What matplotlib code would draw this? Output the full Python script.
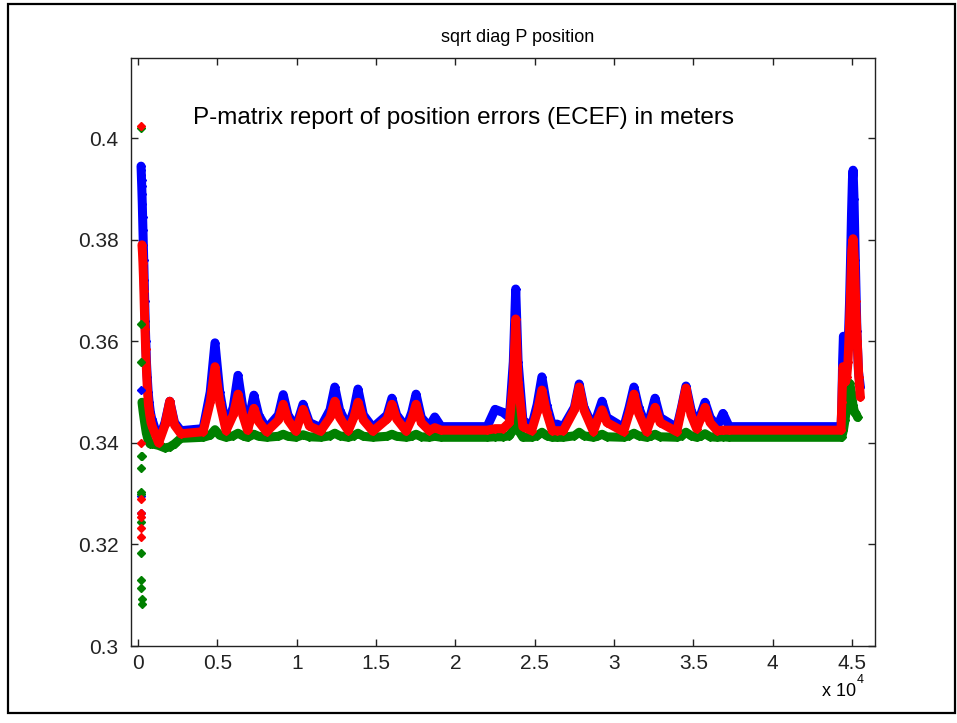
import matplotlib
matplotlib.use("Agg")
import matplotlib.pyplot as plt
from matplotlib.patches import Rectangle

plt.rcParams['font.family'] = ['Liberation Sans', 'DejaVu Sans']

# shared key points of the main band (x in samples)
x_body = [900, 1300, 1700, 2000, 2300, 2700, 4100, 4550, 4850, 5150, 5550, 6000, 6300, 6600,
          6900, 7300, 7600, 8100, 8850, 9150, 9450, 9950, 10400, 10800, 11500, 12100, 12400,
          12700, 13250, 13600, 13860, 14200, 14800, 15700, 16000, 16300, 16900, 17250, 17520,
          17850, 18350, 18700, 19100, 22000, 22500, 23000, 23400, 23650, 23800, 23950, 24250,
          24800, 25150, 25450, 25750, 26100, 26400, 26800, 27500, 27800, 28100, 28700, 28950,
          29240, 29550, 30600, 30950, 31250, 31550, 32050, 32300, 32580, 32900, 33950, 34250,
          34530, 34850, 35200, 35450, 35730, 36050, 36500, 36860, 37250, 44300]
blue_body = [0.3445, 0.3405, 0.3440, 0.3482, 0.3440, 0.3424, 0.3428, 0.3500, 0.3597, 0.3500,
             0.3430, 0.3470, 0.3533, 0.3470, 0.3432, 0.3494, 0.3455, 0.3428, 0.3455, 0.3495,
             0.3455, 0.3430, 0.3476, 0.3440, 0.3430, 0.3465, 0.3510, 0.3465, 0.3430, 0.3465,
             0.3506, 0.3455, 0.3430, 0.3455, 0.3488, 0.3455, 0.3430, 0.3460, 0.3496, 0.3450,
             0.3432, 0.3451, 0.3432, 0.3432, 0.3466, 0.3460, 0.3450, 0.3560, 0.3703, 0.3560,
             0.3445, 0.3432, 0.3475, 0.3530, 0.3475, 0.3435, 0.3437, 0.3432, 0.3470, 0.3516,
             0.3470, 0.3430, 0.3455, 0.3482, 0.3450, 0.3430, 0.3470, 0.3510, 0.3470, 0.3430,
             0.3455, 0.3488, 0.3450, 0.3430, 0.3470, 0.3512, 0.3465, 0.3435, 0.3455, 0.3480,
             0.3450, 0.3432, 0.3458, 0.3432, 0.3432]
red_body = [0.3432, 0.3400, 0.3435, 0.3482, 0.3435, 0.3418, 0.3422, 0.3480, 0.3550, 0.3480,
            0.3424, 0.3455, 0.3496, 0.3455, 0.3425, 0.3468, 0.3442, 0.3422, 0.3445, 0.3476,
            0.3445, 0.3423, 0.3466, 0.3433, 0.3423, 0.3450, 0.3482, 0.3450, 0.3424, 0.3450,
            0.3480, 0.3445, 0.3423, 0.3447, 0.3476, 0.3447, 0.3423, 0.3447, 0.3476, 0.3440,
            0.3424, 0.3430, 0.3425, 0.3425, 0.3428, 0.3428, 0.3440, 0.3520, 0.3644, 0.3520,
            0.3432, 0.3424, 0.3460, 0.3504, 0.3460, 0.3424, 0.3424, 0.3424, 0.3465, 0.3510,
            0.3465, 0.3422, 0.3445, 0.3465, 0.3440, 0.3422, 0.3458, 0.3496, 0.3458, 0.3422,
            0.3445, 0.3470, 0.3440, 0.3422, 0.3466, 0.3508, 0.3455, 0.3428, 0.3447, 0.3470,
            0.3440, 0.3424, 0.3425, 0.3425, 0.3425]
green_body = [0.3398, 0.3395, 0.3390, 0.3392, 0.3398, 0.3409, 0.3411, 0.3415, 0.3426, 0.3415,
              0.3411, 0.3414, 0.3419, 0.3414, 0.3411, 0.3417, 0.3413, 0.3411, 0.3413, 0.3417,
              0.3413, 0.3411, 0.3416, 0.3412, 0.3411, 0.3414, 0.3419, 0.3414, 0.3411, 0.3414,
              0.3419, 0.3413, 0.3411, 0.3413, 0.3417, 0.3413, 0.3411, 0.3413, 0.3417, 0.3412,
              0.3411, 0.3413, 0.3411, 0.3411, 0.3412, 0.3412, 0.3414, 0.3426, 0.3470, 0.3426,
              0.3411, 0.3411, 0.3414, 0.3421, 0.3414, 0.3411, 0.3411, 0.3411, 0.3414, 0.3421,
              0.3414, 0.3411, 0.3413, 0.3417, 0.3412, 0.3411, 0.3414, 0.3419, 0.3414, 0.3411,
              0.3413, 0.3417, 0.3412, 0.3411, 0.3414, 0.3421, 0.3414, 0.3411, 0.3413, 0.3418,
              0.3412, 0.3411, 0.3412, 0.3411, 0.3411]

# start transient
blue_start_x = [190, 200, 210, 220, 235, 250, 270, 290, 310, 335, 360, 390, 420, 450, 490,
                530, 580, 640, 700, 780, 860]
blue_start_y = [0.3945, 0.3937, 0.3928, 0.3918, 0.3905, 0.3890, 0.3870, 0.3845, 0.3820, 0.3790,
                0.3760, 0.3720, 0.3680, 0.3640, 0.3600, 0.3560, 0.3530, 0.3500, 0.3480, 0.3460,
                0.3448]
red_start_x = [250, 280, 310, 340, 370, 400, 440, 480, 530, 590, 660, 740, 820]
red_start_y = [0.3790, 0.3775, 0.3755, 0.3730, 0.3700, 0.3665, 0.3625, 0.3585, 0.3545, 0.3505,
               0.3475, 0.3455, 0.3440]
green_start_x = [250, 330, 420, 520, 640, 760]
green_start_y = [0.3480, 0.3460, 0.3440, 0.3420, 0.3405, 0.3398]

# end transient
blue_end_x = [44350, 44400, 44450, 44520, 44600, 44680, 44760, 44840, 44900, 44960, 45020,
              45060, 45120, 45200, 45300, 45400, 45520]
blue_end_y = [0.3470, 0.3560, 0.3610, 0.3605, 0.3590, 0.3570, 0.3600, 0.3680, 0.3760, 0.3850,
              0.3920, 0.3937, 0.3880, 0.3760, 0.3620, 0.3540, 0.3510]
red_end_x = [44350, 44420, 44500, 44580, 44660, 44740, 44820, 44900, 44980, 45060, 45140,
             45220, 45320, 45420, 45520]
red_end_y = [0.3480, 0.3550, 0.3540, 0.3520, 0.3530, 0.3560, 0.3620, 0.3700, 0.3780, 0.3802,
             0.3760, 0.3680, 0.3600, 0.3530, 0.3490]
green_end_x = [44350, 44450, 44550, 44650, 44750, 44850, 44950, 45050, 45150, 45250, 45350]
green_end_y = [0.3412, 0.3425, 0.3445, 0.3470, 0.3500, 0.3517, 0.3500, 0.3475, 0.3460, 0.3457,
               0.3450]

# isolated first samples
blue_out_x = [200, 215, 190]
blue_out_y = [0.3295, 0.3262, 0.3505]
red_out_x = [190, 195, 200, 205, 210, 215, 190]
red_out_y = [0.4025, 0.3290, 0.3262, 0.3255, 0.3233, 0.3215, 0.3400]
green_out_x = [185, 170, 175, 180, 185, 190, 195, 200, 205, 210, 215, 220, 225, 230]
green_out_y = [0.4020, 0.3635, 0.3560, 0.3375, 0.3351, 0.3304, 0.3300, 0.3245, 0.3183, 0.3130,
               0.3115, 0.3093, 0.3083, 0.3375]

xticks = [0, 5000, 10000, 15000, 20000, 25000, 30000, 35000, 40000, 45000]
xticklabels = ['0', '0.5', '1', '1.5', '2', '2.5', '3', '3.5', '4', '4.5']
yticks = [0.30, 0.32, 0.34, 0.36, 0.38, 0.40]
yticklabels = ['0.3', '0.32', '0.34', '0.36', '0.38', '0.4']

fig = plt.figure(figsize=(9.57, 7.23), dpi=100)
fig.patch.set_facecolor('white')
fig.patches.append(Rectangle((8 / 957, 1 - 713 / 723), 947 / 957, 709 / 723,
                             transform=fig.transFigure, fill=False, ec='black', lw=1.6))

ax = fig.add_axes([0.1369, 0.1065, 0.7774, 0.8133])

series = [
    ('blue', blue_start_x + x_body + blue_end_x, blue_start_y + blue_body + blue_end_y,
     blue_out_x, blue_out_y),
    ((0, 0.5, 0), green_start_x + x_body + green_end_x, green_start_y + green_body + green_end_y,
     green_out_x, green_out_y),
    ('red', red_start_x + x_body + red_end_x, red_start_y + red_body + red_end_y,
     red_out_x, red_out_y),
]
for i, (c, xs, ys, ox, oy) in enumerate(series):
    ax.plot(xs, ys, color=c, lw=6.5, marker='D', ms=4.2, mec=c, mfc=c,
            solid_joinstyle='round', solid_capstyle='round', zorder=2 + i)
    ax.plot(ox, oy, ls='none', marker='D', ms=4.2, mec=c, mfc=c, zorder=5 + i)

ax.set_xlim(-441, 46440)
ax.set_ylim(0.3, 0.4158)
ax.set_xticks(xticks)
ax.set_xticklabels(xticklabels)
ax.set_yticks(yticks)
ax.set_yticklabels(yticklabels)
ax.tick_params(direction='in', length=5, width=1, top=True, right=True,
               labelsize=15, colors='#222222')
ax.tick_params(axis='x', pad=6)
ax.tick_params(axis='y', pad=9)
for s in ax.spines.values():
    s.set_linewidth(1)
    s.set_color('#222222')

ax.text(3470, 0.4040, 'P-matrix report of position errors (ECEF) in meters',
        fontsize=17.5, va='center', ha='left')
fig.text(518 / 957, 1 - 38 / 723, 'sqrt diag P position', fontsize=13,
         ha='center', va='center')
fig.text(822 / 957, 1 - 692 / 723, 'x 10', fontsize=13, ha='left', va='center')
fig.text(857 / 957, 1 - 680 / 723, '4', fontsize=9, ha='left', va='center')

fig.savefig('out.png', dpi=100)
